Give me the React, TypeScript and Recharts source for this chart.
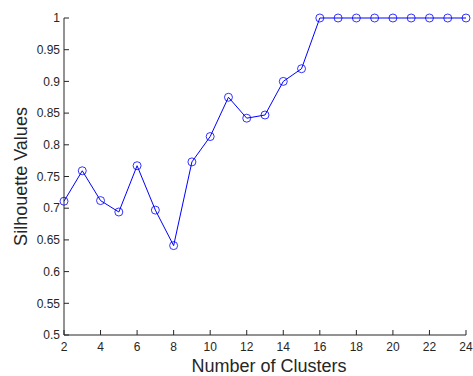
import React from 'react';
import { LineChart, Line, XAxis, YAxis } from 'recharts';

const clusters = [2, 3, 4, 5, 6, 7, 8, 9, 10, 11, 12, 13, 14, 15, 16, 17, 18, 19, 20, 21, 22, 23, 24];
const silhouette = [0.711, 0.759, 0.712, 0.694, 0.767, 0.697, 0.641, 0.773, 0.813, 0.875, 0.842, 0.847, 0.9, 0.92, 1, 1, 1, 1, 1, 1, 1, 1, 1];
const xTicks = [2, 4, 6, 8, 10, 12, 14, 16, 18, 20, 22, 24];
const yTicks = [0.5, 0.55, 0.6, 0.65, 0.7, 0.75, 0.8, 0.85, 0.9, 0.95, 1];

const data = clusters.map((k, i) => ({ k, v: silhouette[i] }));

const axisColor = '#262626';
const font = 'Liberation Sans, Arial, Helvetica, sans-serif';

export default function App() {
  return (
    <div style={{ position: 'absolute', left: 0, top: 0, width: 473, height: 376, background: '#fff' }}>
      <LineChart width={473} height={376} data={data} margin={{ top: 18, right: 7, bottom: 0, left: 0 }}>
        <XAxis
          dataKey="k"
          type="number"
          domain={[2, 24]}
          ticks={xTicks}
          height={41}
          tickSize={-5}
          tickMargin={12}
          stroke={axisColor}
          tick={{ fill: axisColor, fontSize: 12, fontFamily: font }}
          label={{ value: 'Number of Clusters', position: 'insideBottom', offset: 0, dx: 4, dy: -4, fill: axisColor, fontSize: 18, fontFamily: font }}
        />
        <YAxis
          type="number"
          domain={[0.5, 1]}
          ticks={yTicks}
          width={64}
          tickSize={-5}
          tickMargin={9}
          stroke={axisColor}
          tick={{ fill: axisColor, fontSize: 12, fontFamily: font }}
          label={{ value: 'Silhouette Values', angle: -90, position: 'insideLeft', offset: 0, dx: 21, fill: axisColor, fontSize: 18, fontFamily: font, style: { textAnchor: 'middle' } }}
        />
        <Line
          dataKey="v"
          stroke="#0000ff"
          strokeWidth={1}
          dot={{ r: 4, stroke: '#0000ff', strokeWidth: 0.8, fill: 'none' }}
          isAnimationActive={false}
        />
      </LineChart>
    </div>
  );
}
